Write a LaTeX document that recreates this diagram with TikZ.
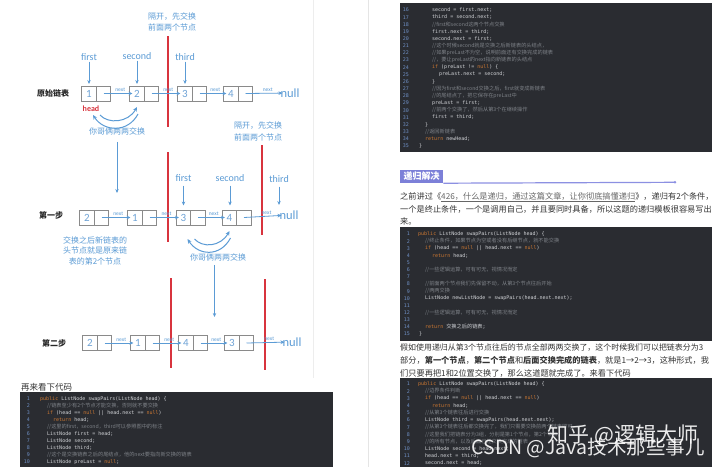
\documentclass[tikz,border=0pt]{standalone}
\usepackage{fontspec}
\setmainfont{Noto Sans CJK SC}
\newfontfamily\cjk{Noto Sans CJK SC}
\newfontfamily\lab{Carlito}
\newfontfamily\mono{DejaVu Sans Mono}
\usetikzlibrary{arrows.meta}
\definecolor{blueL}{HTML}{5B9BD5}
\definecolor{digitc}{HTML}{6FA3D6}
\definecolor{redL}{HTML}{D8343E}
\definecolor{boxgray}{HTML}{8A8A8A}
\definecolor{codebg}{HTML}{2A2C31}
\definecolor{codetxt}{HTML}{D2D4D8}
\definecolor{kwc}{HTML}{CC7832}
\definecolor{cmc}{HTML}{7E8288}
\definecolor{lnc}{HTML}{6E8FC4}
\definecolor{parac}{HTML}{333333}
\definecolor{linkc}{HTML}{666666}
\definecolor{headbg}{HTML}{7C80D8}
\definecolor{hlinec}{HTML}{8C90E2}
\newcommand\fs[1]{\fontsize{#1}{#1}\selectfont}
\newcommand\kw[1]{{\color{kwc}#1}}
\newcommand\cmt[1]{{\color{cmc}\cjk\fontsize{5.2}{6}\selectfont #1}}
\newcommand\llnode[4]{\node[cellL] (#1) at (#2,#3) {#4}; \node[cellR] (#1r) at (#1.east) {};}
\newcommand\cl[6]{\node[lnum] (#1n) at (#2,#3) {#4}; \node[codel] (#1) at (#5,#3) {#6};}
\begin{document}
\begin{tikzpicture}[x=1pt,y=-1pt,
  cellL/.style={draw=boxgray, line width=0.6pt, minimum width=14.5pt, minimum height=15pt, inner sep=0pt, outer sep=0pt, font=\lab\fs{11}, text=digitc},
  cellR/.style={draw=boxgray, line width=0.6pt, minimum width=14.5pt, minimum height=15pt, inner sep=0pt, outer sep=0pt, anchor=west},
  nxt/.style={draw=blueL, line width=0.8pt, -{Stealth[length=4pt,width=3.6pt]}, shorten >=4.5pt},
  nextlbl/.style={font=\lab\fs{5.5}, text=blueL, inner sep=0.3pt, above=0.8pt},
  nulltxt/.style={font=\lab\fs{12.5}, text=blueL, inner sep=0pt},
  ptr/.style={font=\lab\fs{10}, text=blueL, inner sep=1pt},
  ptrarr/.style={draw=blueL, line width=0.7pt, -{Stealth[length=4pt,width=3.4pt]}},
  note/.style={font=\cjk\fontsize{8}{11.5}\selectfont, text=blueL, inner sep=0pt, align=center},
  rowlbl/.style={font=\cjk\bfseries\fs{8}, text=black!85, inner sep=0pt},
  sepline/.style={draw=redL, line width=1.4pt},
  swaparr/.style={draw=blueL, line width=1pt, -{Stealth[length=4.5pt,width=4pt]}},
  codel/.style={anchor=west, inner sep=0pt, font=\mono\fs{5}, text=codetxt},
  lnum/.style={anchor=east, inner sep=0pt, font=\mono\fs{5}, text=lnc},
  para/.style={anchor=west, inner sep=0pt, font=\cjk\fs{8.2}, text=parac},
  wm/.style={text=white, text opacity=0.9, inner sep=0pt}
]
\useasboundingbox (0,0) rectangle (720,467);
\fill[white] (0,0) rectangle (720,467);
\draw[black!7, line width=0.6pt] (313,0) -- (313,378);
\draw[black!10, line width=0.6pt] (368,0) -- (368,467);

% ---------- group 1: original list ----------
\node[note] (g1note) at (172,22) {隔开，先交换\\前面两个节点};
\draw[sepline] (168,36) -- (168,127);
\node[rowlbl] (r1) at (53,93) {原始链表};
\llnode{a1}{89}{93.5}{1}
\llnode{a2}{137}{93.5}{2}
\llnode{a3}{185}{93.5}{3}
\llnode{a4}{231}{93.5}{4}
\node[nulltxt] (nul1) at (290,93) {null};
\draw[nxt] (a1r.center) -- node[nextlbl]{next} (a2.center);
\draw[nxt] (a2r.center) -- node[nextlbl]{next} (a3.center);
\draw[nxt] (a3r.center) -- node[nextlbl]{next} (a4.center);
\draw[nxt, shorten >=7.5pt] (a4r.center) -- node[nextlbl]{next} (nul1.center);
\node[ptr] (f1) at (89,57) {first};
\node[ptr] (s1) at (137,56) {second};
\node[ptr] (t1) at (185,57) {third};
\draw[ptrarr, shorten >=2pt] (f1) -- (a1);
\draw[ptrarr, shorten >=2pt] (s1) -- (a2);
\draw[ptrarr, shorten >=2pt] (t1) -- (a3);
\node[font=\lab\bfseries\fs{8}, text=redL, inner sep=0pt] (hd1) at (91,109) {head};
\begin{scope}[shift={(a1.center)}]
  \draw[swaparr] (11,21.5) .. controls (19,30.5) and (39,29.5) .. (48,13.5);
  \draw[swaparr] (49,20.5) .. controls (39,39.5) and (15,38.5) .. (4,21.5);
\end{scope}
\node[note] (n1) at (117,131) {你哥俩两两交换};
\coordinate (e1) at (117,193);
\draw[ptrarr, shorten <=7pt] (n1.south -| e1) -- (e1);

% ---------- group 2: first step ----------
\node[note] (g2note) at (258,131.5) {隔开，先交换\\前面两个节点};
\draw[sepline] (168,152) -- (168,242);
\draw[sepline] (262,145) -- (262,235);
\node[rowlbl] (r2) at (51,215) {第一步};
\llnode{b1}{87}{217.5}{2}
\llnode{b2}{135}{217.5}{1}
\llnode{b3}{183.5}{217.5}{3}
\llnode{b4}{229.5}{217.5}{4}
\node[nulltxt] (nul2) at (289,215) {null};
\draw[nxt] (b1r.center) -- node[nextlbl]{next} (b2.center);
\draw[nxt] (b2r.center) -- node[nextlbl]{next} (b3.center);
\draw[nxt] (b3r.center) -- node[nextlbl]{next} (b4.center);
\draw[nxt, shorten >=7.5pt] (b4r.center) -- node[nextlbl]{next} (nul2.center);
\node[ptr] (f2) at (183.5,178) {first};
\node[ptr] (s2) at (230,178) {second};
\node[ptr] (t2) at (279,179) {third};
\coordinate (t2e) at (279,205);
\draw[ptrarr, shorten <=3pt, shorten >=4.5pt] (f2) -- (b3);
\draw[ptrarr, shorten <=3pt, shorten >=4.5pt] (s2) -- (s2 |- b4.north);
\draw[ptrarr, shorten <=3pt] (t2) -- (t2e);
\begin{scope}[shift={(b3.center)}]
  \draw[swaparr] (11,21.5) .. controls (19,30.5) and (37,29.5) .. (46,13.5);
  \draw[swaparr] (47,20.5) .. controls (37,39.5) and (15,38.5) .. (4,21.5);
\end{scope}
\node[note, font=\cjk\fontsize{8}{10.5}\selectfont] (n3) at (95,250.5) {交换之后新链表的\\头节点就是原来链\\表的第2个节点};
\node[note] (n2) at (218,257) {你哥俩两两交换};
\coordinate (e2) at (214.5,317);
\draw[ptrarr, shorten <=4pt] (n2.south -| e2) -- (e2);

% ---------- group 3: second step ----------
\draw[sepline] (171,278) -- (171,368);
\draw[sepline] (265,279) -- (265,370);
\node[rowlbl] (r3) at (54,343) {第二步};
\llnode{d1}{90}{343}{2}
\llnode{d2}{138}{343}{1}
\llnode{d3}{186}{343}{4}
\llnode{d4}{232}{343}{3}
\node[nulltxt] (nul3) at (292,342) {null};
\draw[nxt] (d1r.center) -- node[nextlbl]{next} (d2.center);
\draw[nxt] (d2r.center) -- node[nextlbl]{next} (d3.center);
\draw[nxt] (d3r.center) -- node[nextlbl]{next} (d4.center);
\draw[nxt, shorten >=7.5pt] (d4r.center) -- node[nextlbl]{next} (nul3.center);

% ---------- left code ----------
\node[anchor=west, inner sep=0pt, font=\cjk\fs{8.5}, text=parac] (lc) at (21,387) {再来看下代码};
\fill[codebg] (20,392) rectangle (333,467);
\cl{L1}{30}{399}{1}{40}{\kw{public} ListNode swapPairs(ListNode head) \{}
\cl{L2}{30}{406}{2}{47}{\cmt{//链表至少有2个节点才能交换，否则就不要交换}}
\cl{L3}{30}{413}{3}{47}{\kw{if} (head == \kw{null} || head.next == \kw{null})}
\cl{L4}{30}{420}{4}{53}{\kw{return} head;}
\cl{L5}{30}{427}{5}{47}{\cmt{//这里的first，second，third可以参照图中的标注}}
\cl{L6}{30}{434}{6}{47}{ListNode first = head;}
\cl{L7}{30}{441}{7}{47}{ListNode second;}
\cl{L8}{30}{448}{8}{47}{ListNode third;}
\cl{L9}{30}{455}{9}{47}{\cmt{//这个是交换链表之后的尾结点，他的next要指向新交换的链表}}
\cl{L10}{30}{462}{10}{47}{ListNode preLast = \kw{null};}

% ---------- right top code ----------
\fill[codebg] (400,3) rectangle (712,152);
\cl{R16}{409}{10}{16}{432}{second = first.next;}
\cl{R17}{409}{17.2}{17}{432}{third = second.next;}
\cl{R18}{409}{24.3}{18}{432}{\cmt{//first和second这两个节点交换}}
\cl{R19}{409}{31.5}{19}{432}{first.next = third;}
\cl{R20}{409}{38.6}{20}{432}{second.next = first;}
\cl{R21}{409}{45.8}{21}{432}{\cmt{//这个时候second就是交换之后新链表的头结点，}}
\cl{R22}{409}{53}{22}{432}{\cmt{//如果preLast不为空，说明前面还有交换完成的链表}}
\cl{R23}{409}{60.1}{23}{432}{\cmt{//，要让preLast的next指向新链表的头结点}}
\cl{R24}{409}{67.3}{24}{432}{\kw{if} (preLast != \kw{null}) \{}
\cl{R25}{409}{74.4}{25}{439}{preLast.next = second;}
\cl{R26}{409}{81.6}{26}{432}{\}}
\cl{R27}{409}{88.8}{27}{432}{\cmt{//因为first和second交换之后，first就变成新链表}}
\cl{R28}{409}{95.9}{28}{432}{\cmt{//的尾结点了，把它保存在preLast中}}
\cl{R29}{409}{103.1}{29}{432}{preLast = first;}
\cl{R30}{409}{110.2}{30}{432}{\cmt{//前两个交换了，然后从第3个在继续操作}}
\cl{R31}{409}{117.4}{31}{432}{first = third;}
\cl{R32}{409}{124.6}{32}{425}{\}}
\cl{R33}{409}{131.7}{33}{425}{\cmt{//返回新链表}}
\cl{R34}{409}{138.9}{34}{425}{\kw{return} newHead;}
\cl{R35}{409}{146}{35}{419}{\}}

% ---------- heading and paragraph ----------
\node[fill=headbg, text=white, font=\cjk\bfseries\fs{9}, inner xsep=3.5pt, inner ysep=0pt, minimum height=13pt, anchor=west] (hd) at (400,176.5) {递归解决};
\coordinate (hdend) at (675,182.3);
\draw[hlinec, line width=1.2pt] (hd.south east) -- (hdend);
\fill[hlinec] (hdend) circle (1.4pt);
\node[para] (p1) at (400,197) {之前讲过《\textcolor{linkc}{\underline{426，什么是递归，通过这篇文章，让你彻底搞懂递归}}》，递归有2个条件，};
\node[para] (p2) at (400,209) {一个是终止条件，一个是调用自己，并且要同时具备，所以这题的递归模板很容易写出};
\node[para] (p3) at (400,221) {来。};

% ---------- middle code ----------
\fill[codebg] (400,227) rectangle (712,341);
\cl{M1}{410}{234}{1}{418}{\kw{public} ListNode swapPairs(ListNode head) \{}
\cl{M2}{410}{241.15}{2}{425}{\cmt{//终止条件，如果节点为空或者没有后继节点，就不能交换}}
\cl{M3}{410}{248.3}{3}{425}{\kw{if} (head == \kw{null} || head.next == \kw{null})}
\cl{M4}{410}{255.45}{4}{432}{\kw{return} head;}
\cl{M5}{410}{262.6}{5}{425}{}
\cl{M6}{410}{269.75}{6}{425}{\cmt{//一些逻辑运算，可有可无，视情况而定}}
\cl{M7}{410}{276.9}{7}{425}{}
\cl{M8}{410}{284.05}{8}{425}{\cmt{//前面两个节点我们先保留不动，从第3个节点往后开始}}
\cl{M9}{410}{291.2}{9}{425}{\cmt{//两两交换}}
\cl{M10}{410}{298.35}{10}{425}{ListNode newListNode = swapPairs(head.next.next);}
\cl{M11}{410}{305.5}{11}{425}{}
\cl{M12}{410}{312.65}{12}{425}{\cmt{//一些逻辑运算，可有可无，视情况而定}}
\cl{M13}{410}{319.8}{13}{425}{}
\cl{M14}{410}{326.95}{14}{425}{\kw{return} {\cjk\fs{5.2}交换之后的链表};}
\cl{M15}{410}{334.1}{15}{419}{\}}

% ---------- second paragraph ----------
\node[para, font=\cjk\fs{7.95}] (q1) at (400,348) {假如使用递归从第3个节点往后的节点全部两两交换了，这个时候我们可以把链表分为3};
\node[para] (q2) at (400,360.5) {部分，\textbf{第一个节点}，\textbf{第二个节点}和\textbf{后面交换完成的链表}，就是1→2→3，这种形式，我};
\node[para] (q3) at (400,373) {们只要再把1和2位置交换了，那么这道题就完成了。来看下代码};

% ---------- bottom code ----------
\fill[codebg] (400,378) rectangle (712,467);
\cl{B1}{410}{384}{1}{418}{\kw{public} ListNode swapPairs(ListNode head) \{}
\cl{B2}{410}{391.2}{2}{425}{\cmt{//边界条件判断}}
\cl{B3}{410}{398.4}{3}{425}{\kw{if} (head == \kw{null} || head.next == \kw{null})}
\cl{B4}{410}{405.6}{4}{432}{\kw{return} head;}
\cl{B5}{410}{412.8}{5}{425}{\cmt{//从第3个链表往后进行交换}}
\cl{B6}{410}{420}{6}{425}{ListNode third = swapPairs(head.next.next);}
\cl{B7}{410}{427.2}{7}{425}{\cmt{//从第3个链表往后都交换完了，我们只需要交换前两个链表即可，}}
\cl{B8}{410}{434.4}{8}{425}{\cmt{//这里我们把链表分为3组，分别是第1个节点，第2个节点，}}
\cl{B9}{410}{441.6}{9}{425}{\cmt{//的所有节点，以及后面已经交换完成的链表}}
\cl{B10}{410}{448.8}{10}{425}{ListNode second = head.next;}
\cl{B11}{410}{456}{11}{425}{head.next = third;}
\cl{B12}{410}{463.2}{12}{425}{second.next = head;}

% ---------- watermarks ----------
\node[wm, font=\cjk\fs{21}] (wm1) at (623,435) {知乎 @逻辑大师};
\node[wm, font=\cjk\fs{19.5}] (wm2) at (588,448) {CSDN @Java技术那些事儿};
\end{tikzpicture}
\end{document}
